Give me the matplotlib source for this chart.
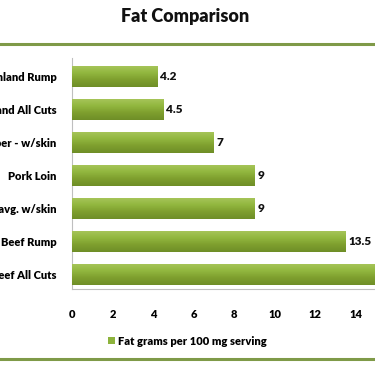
import numpy as np
import matplotlib.pyplot as plt
from matplotlib.lines import Line2D
from matplotlib.patches import Patch
from matplotlib.colors import LinearSegmentedColormap

plt.rcParams['font.family'] = ['Lato', 'DejaVu Sans']

# Data
categories = ["Highland Rump", "Highland All Cuts", "Chicken Upper - w/skin",
              "Pork Loin", "Chicken avg. w/skin", "Beef Rump", "Beef All Cuts"]
fat_grams = [4.2, 4.5, 7, 9, 9, 13.5, 16]
xticks = [0, 2, 4, 6, 8, 10, 12, 14]
series_name = "Fat grams per 100 mg serving"

fig = plt.figure(figsize=(3.75, 3.66), dpi=100)
ax = fig.add_axes([0.192, 0.21, 0.808, 0.6315])

y = np.arange(len(categories))
bars = ax.barh(y, fat_grams, height=0.64, color='#8db33c', edgecolor='none', zorder=2)

# vertical gradient on each bar (light top, darker bottom)
grad = np.linspace(0, 1, 64).reshape(-1, 1)
cmap = LinearSegmentedColormap.from_list('g', ['#a8c65c', '#93b840', '#7e9f2e', '#6f8e27'])
for b in bars:
    x0, y0 = b.get_x(), b.get_y()
    w, h = b.get_width(), b.get_height()
    im = ax.imshow(grad, cmap=cmap, aspect='auto', extent=[x0, x0 + w, y0 + h, y0],
                   zorder=3, origin='upper')
    im.set_clip_path(b)

for yi, v in zip(y, fat_grams):
    ax.text(v + 0.15, yi, f"{v:g}", va='center', ha='left', fontsize=8.5,
            fontweight='heavy', color='#111111', zorder=4)

ax.set_yticks(y)
ax.set_yticklabels(categories, fontsize=8, fontweight='heavy')
ax.set_xticks(xticks)
ax.set_xticklabels([str(t) for t in xticks], fontsize=8, fontweight='heavy')
ax.tick_params(axis='both', length=0)
ax.tick_params(axis='x', pad=14)
ax.tick_params(axis='y', pad=11)
ax.set_xlim(0, 14.96)
ax.set_ylim(6.45, -0.55)

for s in ['top', 'right']:
    ax.spines[s].set_visible(False)
for s in ['left', 'bottom']:
    ax.spines[s].set_color('#bfbfbf')
    ax.spines[s].set_linewidth(0.8)

fig.text(0.494, 0.955, "Fat Comparison", ha='center', va='center',
         fontsize=13, fontweight='heavy', color='#111111')

# olive separator lines
fig.add_artist(Line2D([0, 1], [0.879, 0.879], color='#7f9a48', lw=2.2))
fig.add_artist(Line2D([0, 1], [0.019, 0.019], color='#7f9a48', lw=2.2))

handles = [Patch(facecolor='#8db33c', edgecolor='none')]
fig.legend(handles, [series_name], loc='center', bbox_to_anchor=(0.5, 0.068),
           frameon=False, prop={'size': 8, 'weight': 'heavy'},
           handlelength=0.6, handleheight=0.6, handletextpad=0.3)

fig.savefig("out.png", dpi=100)
